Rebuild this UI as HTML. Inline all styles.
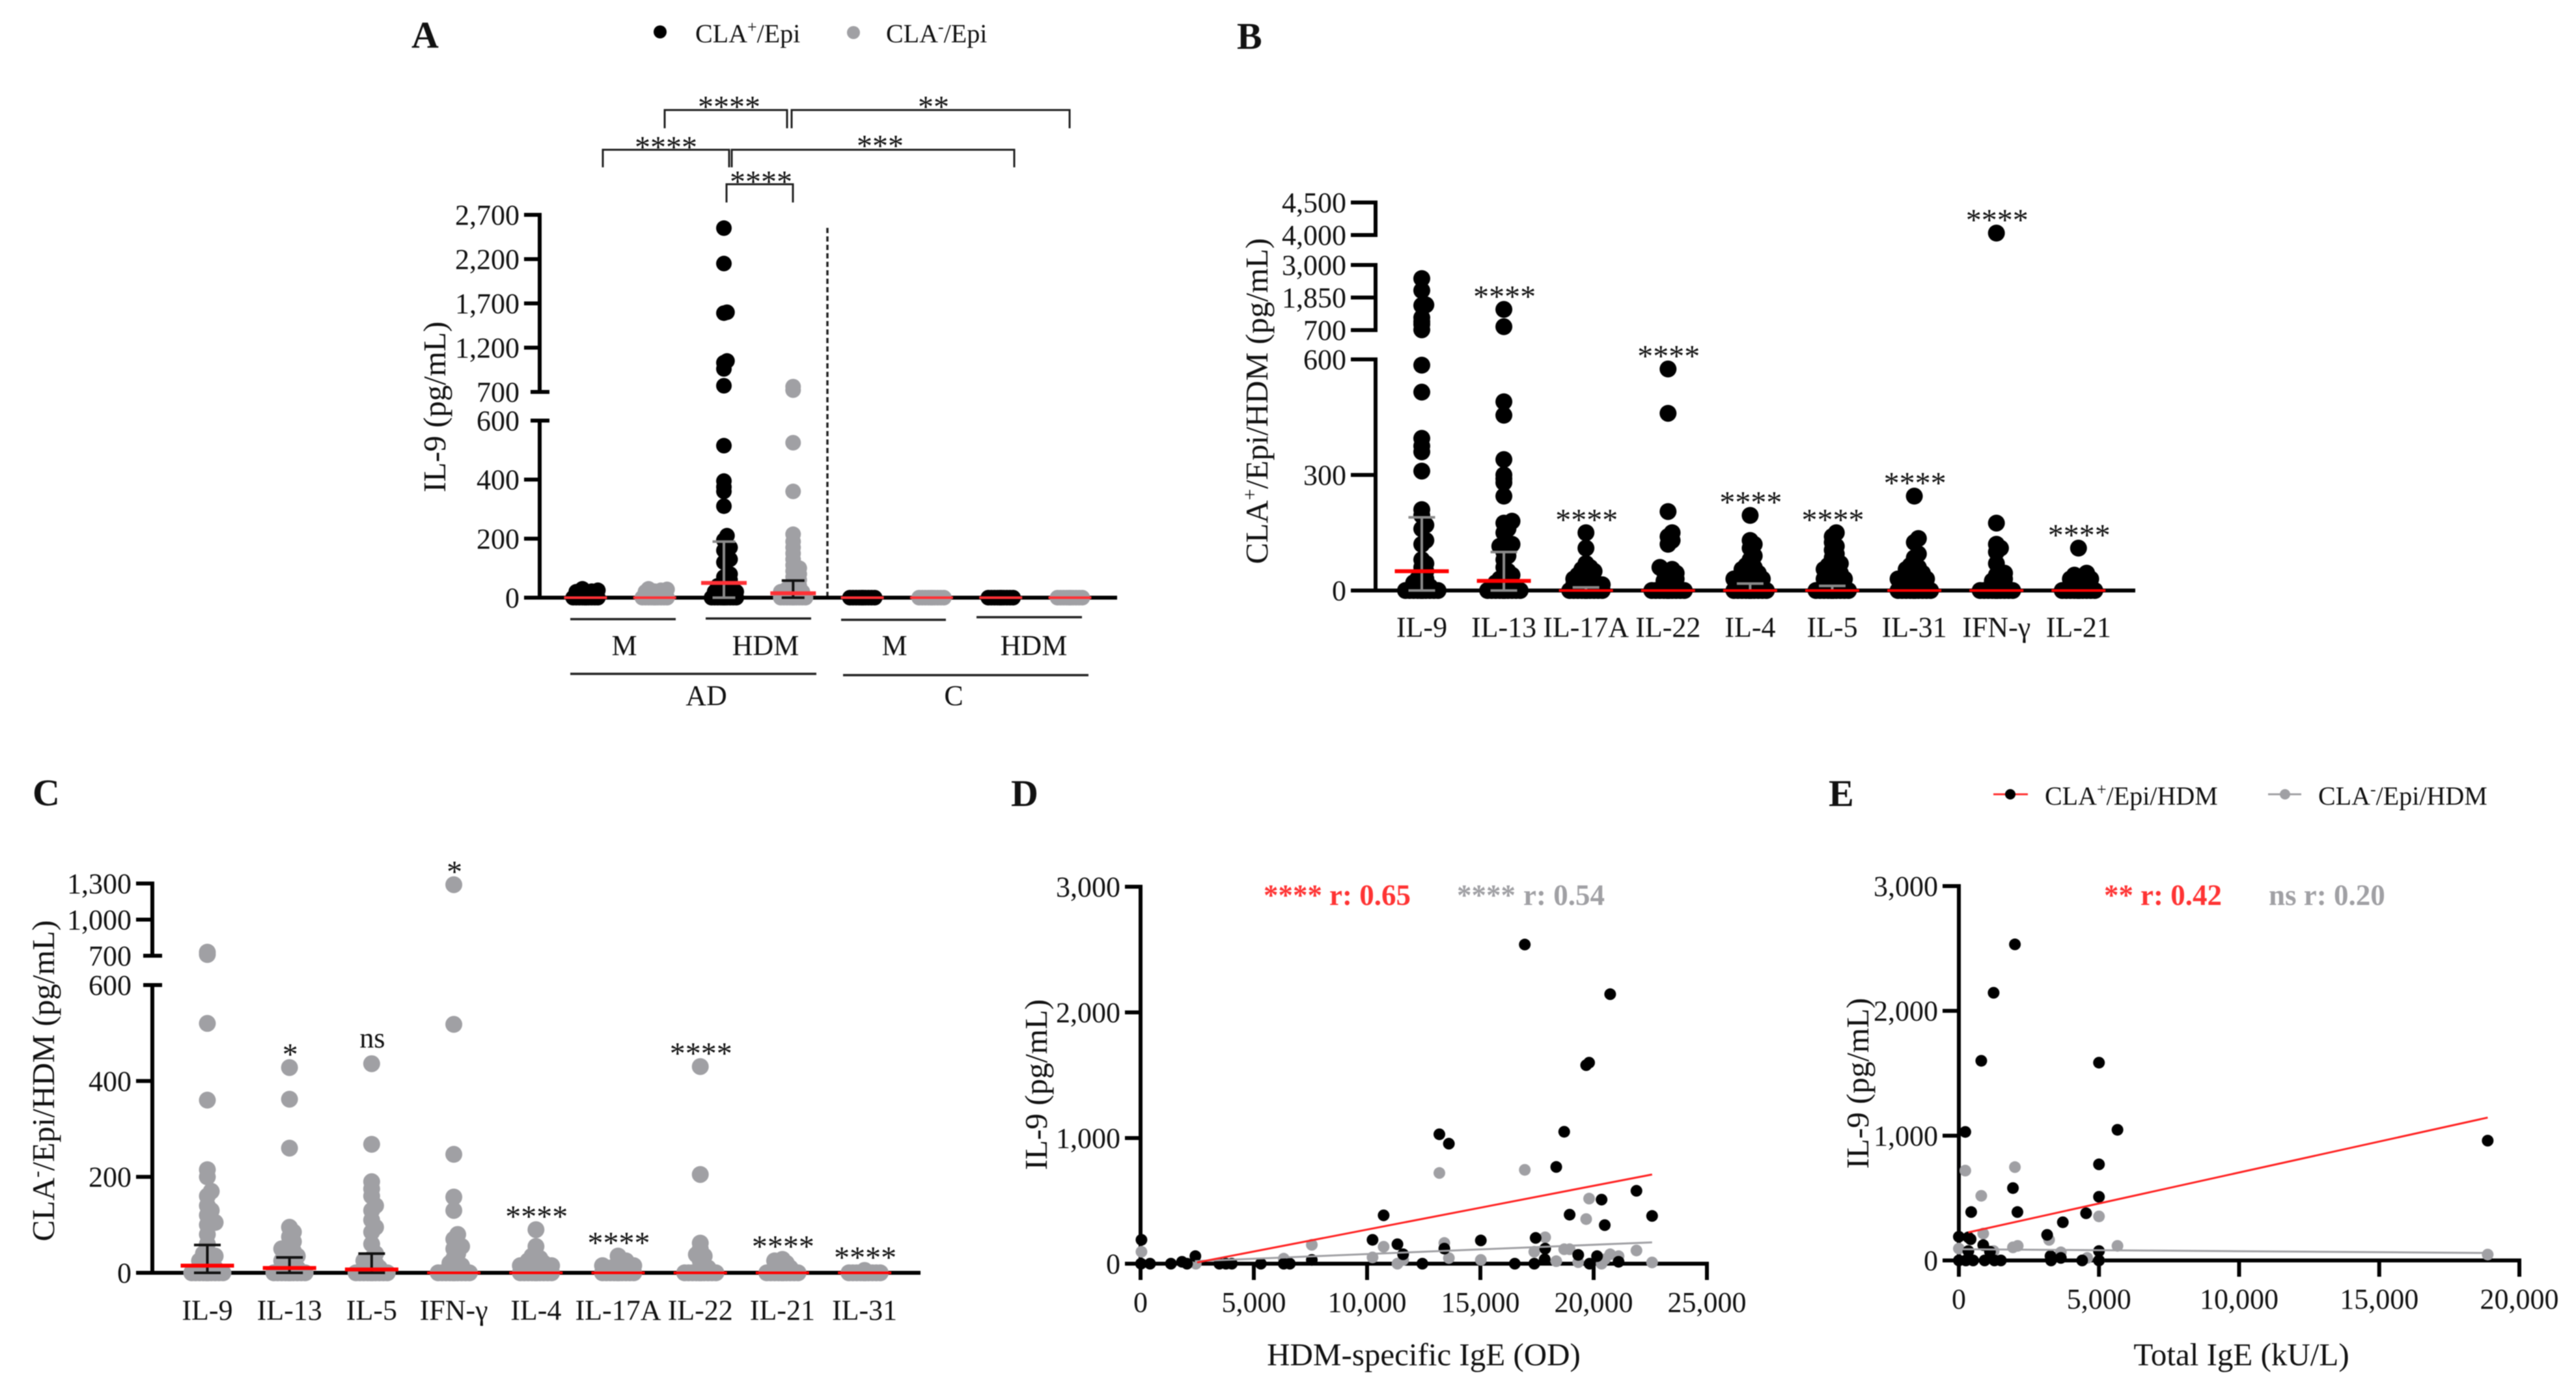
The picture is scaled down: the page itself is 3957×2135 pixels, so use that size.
<!DOCTYPE html>
<html lang="en">
<head>
<meta charset="utf-8">
<title>IL-9 production by CLA+ and CLA- T cells</title>
<style>
html,body{margin:0;padding:0;background:#fff;}
#figure{display:block;width:3957px;height:2135px;filter:blur(0.7px);font-family:"Liberation Serif","Times New Roman",serif;fill:#111;}
.tick{font-size:44px;}
.title{font-size:49px;}
.panel{font-size:58px;font-weight:bold;}
.stars{font-size:48px;}
.legend{font-size:40px;}
.corr{font-size:45px;font-weight:bold;}
.br{fill:none;stroke:#222;stroke-width:3;}
.gl{stroke:#222;stroke-width:3.5;}
</style>
</head>
<body>
<svg id="figure" xmlns="http://www.w3.org/2000/svg" width="3957" height="2135" viewBox="0 0 3957 2135">
  <rect x="0" y="0" width="3957" height="2135" fill="#fff"/>

  <!-- Panel letters -->
  <text class="panel" x="632" y="73">A</text>
  <text class="panel" x="1900" y="75">B</text>
  <text class="panel" x="50" y="1237">C</text>
  <text class="panel" x="1553" y="1238">D</text>
  <text class="panel" x="2809" y="1238">E</text>

  <!-- Panel A legend -->
  <g>
    <circle cx="1014" cy="49" r="10" fill="#000"/>
    <text class="legend" x="1068" y="65">CLA<tspan font-size="26" dy="-15">+</tspan><tspan dy="15">/Epi</tspan></text>
    <circle cx="1311" cy="50" r="10" fill="#a0a0a4"/>
    <text class="legend" x="1361" y="65">CLA<tspan font-size="26" dy="-15">-</tspan><tspan dy="15">/Epi</tspan></text>
  </g>

  <!-- Panel A brackets -->
  <g>
    <path class="br" d="M1021 197V169H1209V197"/>
    <path class="br" d="M1216 197V169H1643V197"/>
    <path class="br" d="M926 257V230H1120V257"/>
    <path class="br" d="M1124 257V230H1558V257"/>
    <path class="br" d="M1116 311V283H1218V311"/>
    <text class="stars" x="1120" y="180" text-anchor="middle">****</text>
    <text class="stars" x="1434" y="180" text-anchor="middle">**</text>
    <text class="stars" x="1023" y="242" text-anchor="middle">****</text>
    <text class="stars" x="1352" y="240" text-anchor="middle">***</text>
    <text class="stars" x="1169" y="295" text-anchor="middle">****</text>
  </g>

  <!-- Panel A divider and grouping -->
  <line x1="1271" y1="350" x2="1271" y2="917" stroke="#222" stroke-width="3.5" stroke-dasharray="8 5"/>
  <g>
    <line class="gl" x1="876" y1="951" x2="1038" y2="951"/>
    <line class="gl" x1="1084" y1="950" x2="1246" y2="950"/>
    <line class="gl" x1="1292" y1="952" x2="1453" y2="952"/>
    <line class="gl" x1="1500" y1="948" x2="1662" y2="948"/>
    <text class="tick" x="959" y="1006" text-anchor="middle">M</text>
    <text class="tick" x="1176" y="1006" text-anchor="middle">HDM</text>
    <text class="tick" x="1374" y="1006" text-anchor="middle">M</text>
    <text class="tick" x="1588" y="1006" text-anchor="middle">HDM</text>
    <line class="gl" x1="876" y1="1035" x2="1254" y2="1035"/>
    <line class="gl" x1="1295" y1="1037" x2="1672" y2="1037"/>
    <text class="tick" x="1085" y="1083" text-anchor="middle">AD</text>
    <text class="tick" x="1465" y="1083" text-anchor="middle">C</text>
  </g>

  <!-- Axis titles -->
  <text class="title" transform="translate(684 625) rotate(-90)" text-anchor="middle">IL-9 (pg/mL)</text>
  <text class="title" transform="translate(1947 616) rotate(-90)" text-anchor="middle">CLA<tspan font-size="31" dy="-17">+</tspan><tspan dy="17">/Epi/HDM (pg/mL)</tspan></text>
  <text class="title" transform="translate(83 1660) rotate(-90)" text-anchor="middle">CLA<tspan font-size="31" dy="-17">-</tspan><tspan dy="17">/Epi/HDM (pg/mL)</tspan></text>
  <text class="title" transform="translate(1608 1666) rotate(-90)" text-anchor="middle">IL-9 (pg/mL)</text>
  <text class="title" transform="translate(2870 1664) rotate(-90)" text-anchor="middle">IL-9 (pg/mL)</text>
  <text class="title" x="2187" y="2097" text-anchor="middle">HDM-specific IgE (OD)</text>
  <text class="title" x="3443" y="2097" text-anchor="middle">Total IgE (kU/L)</text>

  <!-- Correlation annotations -->
  <g>
    <text class="corr" x="1941" y="1390" fill="#ff3333">****</text>
    <text class="corr" x="2042" y="1390" fill="#ff3333">r: 0.65</text>
    <text class="corr" x="2238" y="1390" fill="#a0a0a4">****</text>
    <text class="corr" x="2340" y="1390" fill="#a0a0a4">r: 0.54</text>
  </g>
  <g>
    <text class="corr" x="3232" y="1390" fill="#ff3333">**</text>
    <text class="corr" x="3288" y="1390" fill="#ff3333">r: 0.42</text>
    <text class="corr" x="3485" y="1390" fill="#a0a0a4">ns r: 0.20</text>
  </g>

  <!-- Panel E legend -->
  <g>
    <line x1="3062" y1="1220" x2="3115" y2="1220" stroke="#f33" stroke-width="3"/>
    <circle cx="3088" cy="1220" r="8" fill="#000"/>
    <text class="legend" x="3141" y="1236">CLA<tspan font-size="26" dy="-15">+</tspan><tspan dy="15">/Epi/HDM</tspan></text>
    <line x1="3484" y1="1220" x2="3535" y2="1220" stroke="#a0a0a4" stroke-width="3"/>
    <circle cx="3510" cy="1220" r="8" fill="#a0a0a4"/>
    <text class="legend" x="3561" y="1236">CLA<tspan font-size="26" dy="-15">-</tspan><tspan dy="15">/Epi/HDM</tspan></text>
  </g>

  <g id="charts"></g>
</svg>

<script>
/* ---------- Panel A data ---------- */
const aTicks = [0, 200, 400, 600, 700, 1200, 1700, 2200, 2700];
const aBreakTicks = [600, 700];
const aSeriesColors = ['pos', 'neg', 'pos', 'neg', 'pos', 'neg', 'pos', 'neg'];
const aGroups = ['ad-m-pos', 'ad-m-neg', 'ad-hdm-pos', 'ad-hdm-neg', 'c-m-pos', 'c-m-neg', 'c-hdm-pos', 'c-hdm-neg'];
const aAdMPos = [30, 25, 22, 20, 20, 15, 12, 10, 5, 0, 0, 0, 0, 0, 0, 0, 0, 0, 0, 0, 0];
const aAdMNeg = [30, 28, 25, 22, 20, 15, 12, 10, 5, 0, 0, 0, 0, 0, 0, 0, 0, 0, 0, 0, 0];
const aAdHdmPos = [2550, 2150, 1600, 1590, 1050, 1030, 960, 770, 515, 395, 375, 360, 310, 210, 195, 170, 160, 130, 120, 80, 70, 60, 50, 40, 30, 30, 20, 20, 10, 10, 5, 5, 0, 0, 0, 0, 0, 0, 0, 0, 0, 0, 0, 0, 0, 0, 0, 0];
const aAdHdmNeg = [760, 720, 525, 360, 215, 190, 170, 150, 130, 110, 100, 90, 80, 70, 60, 50, 40, 30, 30, 20, 20, 15, 10, 5, 0, 0, 0, 0, 0, 0, 0, 0, 0, 0, 0, 0];
const aCMPos = [0, 0, 0, 0, 0, 0, 0, 0, 0, 0, 0, 0];
const aCMNeg = [0, 0, 0, 0, 0, 0, 0, 0, 0, 0, 0, 0];
const aCHdmPos = [0, 0, 0, 0, 0, 0, 0, 0, 0, 0, 0, 0];
const aCHdmNeg = [0, 0, 0, 0, 0, 0, 0, 0, 0, 0, 0, 0];
const aValues = [aAdMPos, aAdMNeg, aAdHdmPos, aAdHdmNeg, aCMPos, aCMNeg, aCHdmPos, aCHdmNeg];
const aMedians = [0, 0, 50, 15, 0, 0, 0, 0];
const aErrorTops = [0, 0, 190, 58, 0, 0, 0, 0];

/* ---------- Panel B data ---------- */
const bTicks = [0, 300, 600, 700, 1850, 3000, 4000, 4500];
const bCategories = ['IL-9', 'IL-13', 'IL-17A', 'IL-22', 'IL-4', 'IL-5', 'IL-31', 'IFN-γ', 'IL-21'];
const bStars = ['', '****', '****', '****', '****', '****', '****', '****', '****'];
const bIl9 = [2520, 2100, 1590, 1570, 1140, 1000, 900, 710, 585, 515, 395, 375, 360, 310, 210, 195, 170, 160, 130, 120, 80, 70, 60, 50, 40, 30, 30, 20, 20, 10, 10, 5, 5, 0, 0, 0, 0, 0, 0, 0, 0, 0, 0, 0, 0, 0, 0, 0, 0];
const bIl13 = [1430, 820, 490, 455, 340, 300, 290, 280, 245, 180, 175, 160, 150, 120, 115, 110, 100, 90, 80, 60, 50, 40, 40, 30, 30, 20, 20, 10, 10, 5, 5, 0, 0, 0, 0, 0, 0, 0, 0, 0, 0, 0, 0, 0, 0];
const bIl17a = [150, 110, 70, 60, 55, 50, 45, 40, 35, 30, 30, 25, 20, 20, 15, 15, 10, 10, 5, 5, 0, 0, 0, 0, 0, 0, 0, 0, 0, 0, 0, 0, 0, 0];
const bIl22 = [575, 460, 205, 150, 140, 130, 120, 60, 55, 50, 45, 40, 30, 25, 20, 10, 0, 0, 0, 0, 0, 0, 0, 0, 0, 0, 0, 0, 0, 0, 0, 0];
const bIl4 = [195, 130, 120, 110, 90, 80, 65, 60, 55, 50, 45, 40, 35, 30, 30, 25, 25, 20, 15, 10, 5, 0, 0, 0, 0, 0, 0, 0, 0, 0, 0, 0, 0, 0, 0, 0, 0];
const bIl5 = [150, 140, 125, 115, 105, 95, 85, 70, 65, 60, 55, 50, 45, 40, 35, 30, 30, 25, 20, 15, 10, 5, 0, 0, 0, 0, 0, 0, 0, 0, 0, 0, 0, 0, 0, 0, 0, 0];
const bIl31 = [245, 135, 125, 95, 85, 65, 60, 55, 50, 45, 40, 35, 30, 30, 25, 25, 20, 15, 10, 5, 0, 0, 0, 0, 0, 0, 0, 0, 0, 0, 0, 0, 0, 0, 0, 0];
const bIfn = [4030, 175, 120, 110, 100, 70, 45, 40, 30, 25, 20, 10, 0, 0, 0, 0, 0, 0, 0, 0, 0, 0, 0, 0, 0, 0, 0, 0];
const bIl21 = [110, 45, 40, 35, 30, 30, 25, 20, 15, 10, 5, 0, 0, 0, 0, 0, 0, 0, 0, 0, 0, 0, 0, 0, 0, 0, 0];
const bValues = [bIl9, bIl13, bIl17a, bIl22, bIl4, bIl5, bIl31, bIfn, bIl21];
const bMedians = [50, 25, 0, 0, 0, 0, 0, 0, 0];
const bErrorTops = [190, 100, 8, 0, 18, 12, 0, 0, 0];

/* ---------- Panel C data ---------- */
const cTicks = [0, 200, 400, 600, 700, 1000, 1300];
const cBreakTicks = [600, 700];
const cCategories = ['IL-9', 'IL-13', 'IL-5', 'IFN-γ', 'IL-4', 'IL-17A', 'IL-22', 'IL-21', 'IL-31'];
const cStars = ['', '*', 'ns', '*', '****', '****', '****', '****', '****'];
const cIl9 = [730, 710, 520, 360, 215, 200, 170, 160, 140, 130, 120, 105, 100, 80, 60, 40, 35, 30, 25, 20, 15, 10, 5, 0, 0, 0, 0, 0, 0, 0, 0, 0, 0, 0, 0, 0, 0];
const cIl13 = [428, 362, 260, 95, 85, 75, 65, 55, 50, 45, 40, 35, 30, 25, 20, 15, 10, 5, 0, 0, 0, 0, 0, 0, 0, 0, 0, 0, 0, 0, 0, 0];
const cIl5 = [436, 268, 190, 175, 160, 140, 130, 110, 95, 85, 60, 40, 30, 25, 20, 15, 10, 5, 0, 0, 0, 0, 0, 0, 0, 0, 0, 0, 0, 0, 0, 0];
const cIfn = [1290, 518, 247, 158, 130, 80, 70, 55, 50, 40, 30, 20, 15, 10, 0, 0, 0, 0, 0, 0, 0, 0, 0, 0, 0, 0, 0, 0];
const cIl4 = [90, 55, 35, 30, 25, 20, 20, 15, 15, 10, 10, 5, 0, 0, 0, 0, 0, 0, 0, 0, 0, 0, 0, 0, 0, 0];
const cIl17a = [35, 25, 20, 15, 15, 10, 10, 5, 0, 0, 0, 0, 0, 0, 0, 0, 0, 0, 0, 0, 0, 0];
const cIl22 = [430, 205, 62, 50, 38, 35, 25, 10, 5, 0, 0, 0, 0, 0, 0, 0, 0, 0, 0, 0, 0, 0, 0];
const cIl21 = [28, 25, 20, 15, 10, 5, 0, 0, 0, 0, 0, 0, 0, 0, 0, 0, 0, 0];
const cIl31 = [5, 0, 0, 0, 0, 0, 0, 0, 0, 0, 0, 0, 0, 0, 0];
const cValues = [cIl9, cIl13, cIl5, cIfn, cIl4, cIl17a, cIl22, cIl21, cIl31];
const cMedians = [15, 10, 7, 0, 0, 0, 0, 0, 0];
const cErrorTops = [58, 32, 40, 0, 0, 0, 0, 0, 0];

/* ---------- Panel D data ---------- */
const dXTicks = [0, 5000, 10000, 15000, 20000, 25000];
const dYTicks = [0, 1000, 2000, 3000];
const dPosIge = [40, 20, 420, 1340, 1830, 2050, 2420, 3480, 3770, 4030, 5310, 6320, 6590, 7560, 10240, 10730, 11340, 11590, 12440, 13190, 13410, 13610, 15020, 16520, 16960, 17380, 17440, 17860, 17840, 18350, 18700, 18940, 19320, 19670, 19800, 19820, 20150, 20350, 20490, 20730, 21100, 21890, 22580];
const dPosIl9 = [190, 0, 0, 0, 15, 0, 60, 0, 0, 0, 0, 0, 0, 30, 190, 385, 155, 75, 0, 1030, 120, 955, 185, 0, 2540, 0, 205, 120, 35, 770, 1050, 390, 70, 1580, 1600, 0, 60, 510, 307, 2145, 15, 580, 380];
const dNegIge = [40, 2440, 6320, 7560, 10240, 10730, 11340, 11590, 13190, 13410, 13610, 15020, 16960, 17380, 17860, 18350, 18700, 18940, 19320, 19670, 19800, 20350, 20490, 20730, 21100, 21890, 22580];
const dNegIl9 = [95, 0, 40, 150, 50, 135, 0, 30, 722, 165, 45, 30, 747, 95, 210, 20, 115, 115, 12, 355, 518, 0, 35, 75, 60, 105, 10];
const dPosFitX = [2500, 22580];
const dPosFitY = [10, 710];
const dNegFitX = [2400, 22580];
const dNegFitY = [20, 170];

/* ---------- Panel E data ---------- */
const eXTicks = [0, 5000, 10000, 15000, 20000];
const eYTicks = [0, 1000, 2000, 3000];
const ePosIge = [0, 0, 230, 340, 420, 440, 340, 510, 250, 800, 870, 920, 1110, 1240, 1270, 1500, 1930, 2000, 2090, 3150, 3270, 3290, 3640, 3710, 4400, 4540, 5000, 5000, 5000, 5000, 5000, 5660, 18870];
const ePosIl9 = [190, 0, 1030, 185, 170, 388, 75, 0, 0, 1600, 123, 0, 70, 2145, 0, 0, 580, 2533, 388, 205, 35, 0, 20, 306, 0, 378, 1585, 770, 510, 75, 0, 1047, 960];
const eNegIge = [0, 230, 800, 870, 1240, 1930, 2000, 2100, 3220, 3640, 4580, 5000, 5000, 5660, 18870];
const eNegIl9 = [95, 720, 518, 215, 75, 105, 748, 117, 165, 65, 20, 353, 0, 117, 47];
const ePosFitX = [340, 18870];
const ePosFitY = [225, 1145];
const eNegFitX = [0, 18870];
const eNegFitY = [90, 60];

/* ---------- Drawing ---------- */
const SVG_NS = 'http://www.w3.org/2000/svg';
const root = document.getElementById('charts');
const BLACK = '#000';
const GRAY = '#a0a0a4';

function make(tag, parent, attrs) {
  const node = document.createElementNS(SVG_NS, tag);
  for (const key in attrs) node.setAttribute(key, attrs[key]);
  parent.appendChild(node);
  return node;
}
function fmt(v) {
  return String(v).replace(/\B(?=(\d{3})+(?!\d))/g, ',');
}
function swarm(values, yFn, radius, step) {
  const sorted = values.slice().sort(function (p, q) { return p - q; });
  const placed = [];
  const candidates = [0, step / 2, -step / 2, step, -step, 1.5 * step, -1.5 * step, 2 * step, -2 * step];
  sorted.forEach(function (v) {
    const y = yFn(v);
    /* sparse outliers stay close to the column centre; the dense low range spreads out */
    const minDist = v > 250 ? radius * 0.25 : radius * 0.6;
    let best = 0;
    let bestDist = -1;
    for (const dx of candidates) {
      let nearest = Infinity;
      for (const p of placed) {
        const dist = Math.hypot(p.dx - dx, p.y - y);
        if (dist < nearest) nearest = dist;
      }
      if (nearest >= minDist) { best = dx; bestDist = nearest; break; }
      if (nearest > bestDist) { best = dx; bestDist = nearest; }
    }
    placed.push({ v: v, y: y, dx: best });
  });
  return placed;
}
function drawVerticalAxis(group, x, tickLeft, yFn, ticks, segments, breakTicks) {
  segments.forEach(function (seg) {
    const spine = make('line', group, { x1: x, x2: x, y1: yFn(seg[0]), y2: yFn(seg[1]), stroke: '#000', 'stroke-width': 6, 'stroke-linecap': 'square' });
    
    
  });
  ticks.forEach(function (t) {
    const isBreak = breakTicks.indexOf(t) >= 0;
    const mark = make('line', group, { x1: isBreak ? x - 14 : tickLeft, x2: isBreak ? x + 15 : x, y1: yFn(t), y2: yFn(t), stroke: '#000', 'stroke-width': 6 });
    
    
    const label = make('text', group, { x: tickLeft - 7, y: yFn(t) + 15, 'text-anchor': 'end', class: 'tick' });
    
    
    label.textContent = fmt(t);
  });
}
function drawSwarmPanel(opts) {
  const group = make('g', root, {});
  
  
  const axisLine = make('line', group, { x1: opts.axisLeft, x2: opts.axisRight, y1: opts.yFn(0), y2: opts.yFn(0), stroke: '#000', 'stroke-width': 6 });
  
  
  drawVerticalAxis(group, opts.axisX, opts.tickLeft, opts.yFn, opts.ticks, opts.segments, opts.breakTicks);
  opts.values.forEach(function (vals, i) {
    const cx = opts.xFn(i);
    const color = opts.colorFn(i);
    swarm(vals, opts.yFn, opts.radius, opts.step).forEach(function (p) {
      const dot = make('circle', group, { cx: cx + p.dx, cy: p.y, r: opts.radius, fill: color });
      
      
    });
  });
  opts.values.forEach(function (vals, i) {
    const cx = opts.xFn(i);
    const barColor = opts.colorFn(i) === BLACK ? '#8a8a8a' : '#111';
    const top = opts.errorTops[i];
    const capHalf = opts.capHalf;
    if (top > 0) {
      const path = 'M' + (cx - capHalf) + ' ' + opts.yFn(top) + 'H' + (cx + capHalf) + 'M' + cx + ' ' + opts.yFn(top) + 'V' + opts.yFn(0) + 'M' + (cx - capHalf) + ' ' + opts.yFn(0) + 'H' + (cx + capHalf);
      const err = make('path', group, { d: path, fill: 'none', stroke: barColor, 'stroke-width': 4 });
      
      
    }
    const med = opts.medians[i];
    const isZero = med === 0;
    const half = isZero ? opts.medHalfZero : opts.medHalf;
    const median = make('line', group, { x1: cx - half, x2: cx + half, y1: opts.yFn(med), y2: opts.yFn(med), stroke: opts.medColor, 'stroke-width': isZero ? 4 : 6 });
    
    
  });
  if (opts.stars) {
    opts.stars.forEach(function (s, i) {
      const cx = opts.xFn(i);
      const top = Math.max.apply(null, opts.values[i]);
      if (s) {
        const isNs = s === 'ns';
        const star = make('text', group, { x: cx + 1, y: opts.yFn(top) + (isNs ? -25 : -4), 'text-anchor': 'middle', class: isNs ? 'tick' : 'stars' });
        
        
        star.textContent = s;
      }
      const label = make('text', group, { x: cx, y: opts.labelY, 'text-anchor': 'middle', class: 'tick' });
      
      
      label.textContent = opts.labels[i];
    });
  }
}

/* Piecewise axis functions for the broken y-axes */
function yA(v) { return v <= 600 ? 918 - v / 600 * 272 : 602 - (v - 700) / 2000 * 272; }
function yB(v) { return v <= 600 ? 907 - v / 600 * 355 : (v <= 3000 ? 507 - (v - 700) / 2300 * 100 : 361 - (v - 4000) / 500 * 50); }
function yC(v) { return v <= 600 ? 1955 - v / 600 * 442 : 1468 - (v - 700) / 600 * 111; }

drawSwarmPanel({
  name: 'panel-a-chart', values: aValues, labels: aGroups, ticks: aTicks, breakTicks: aBreakTicks, medians: aMedians, errorTops: aErrorTops,
  segments: [[0, 600], [700, 2700]], yFn: yA, xFn: function (i) { return 899.4 + i * 106.3; },
  colorFn: function (i) { return aSeriesColors[i] === 'pos' ? BLACK : GRAY; },
  axisX: 829, tickLeft: 805, axisLeft: 805, axisRight: 1716, radius: 12, step: 9.5, capHalf: 17.5, medHalf: 35, medHalfZero: 33, medColor: '#ff3035'
});
drawSwarmPanel({
  name: 'panel-b-chart', values: bValues, labels: bCategories, ticks: bTicks, breakTicks: [], medians: bMedians, errorTops: bErrorTops, stars: bStars,
  segments: [[0, 600], [700, 3000], [4000, 4500]], yFn: yB, xFn: function (i) { return 2184 + i * 126.1; },
  colorFn: function () { return BLACK; },
  axisX: 2113, tickLeft: 2075, axisLeft: 2075, axisRight: 3280, radius: 13, step: 12.5, capHalf: 20.5, medHalf: 41.5, medHalfZero: 41.5, medColor: '#f00', labelY: 978
});
drawSwarmPanel({
  name: 'panel-c-chart', values: cValues, labels: cCategories, ticks: cTicks, breakTicks: cBreakTicks, medians: cMedians, errorTops: cErrorTops, stars: cStars,
  segments: [[0, 600], [700, 1300]], yFn: yC, xFn: function (i) { return 318.5 + i * 126.2; },
  colorFn: function () { return GRAY; },
  axisX: 234, tickLeft: 209, axisLeft: 209, axisRight: 1414, radius: 13, step: 12, capHalf: 20.5, medHalf: 41, medHalfZero: 41, medColor: '#f00', labelY: 2027
});

function drawScatterPanel(opts) {
  const group = make('g', root, {});
  
  
  const xFn = opts.xFn;
  const yFn = opts.yFn;
  const xLine = make('line', group, { x1: opts.tickLeft, x2: xFn(opts.xTicks[opts.xTicks.length - 1]) + 3, y1: yFn(0), y2: yFn(0), stroke: '#000', 'stroke-width': 6 });
  
  
  drawVerticalAxis(group, xFn(0), opts.tickLeft, yFn, opts.yTicks, [[0, 3000]], []);
  opts.xTicks.forEach(function (t) {
    const mark = make('line', group, { x1: xFn(t), x2: xFn(t), y1: yFn(0), y2: yFn(0) + 25, stroke: '#000', 'stroke-width': 6 });
    
    
    const label = make('text', group, { x: xFn(t), y: opts.labelY, 'text-anchor': 'middle', class: 'tick' });
    
    
    label.textContent = fmt(t);
  });
  opts.negX.forEach(function (x, i) {
    const dot = make('circle', group, { cx: xFn(x), cy: yFn(opts.negY[i]), r: 9, fill: GRAY });
    
    
  });
  opts.posX.forEach(function (x, i) {
    const dot = make('circle', group, { cx: xFn(x), cy: yFn(opts.posY[i]), r: 9, fill: BLACK });
    
    
  });
  const negFit = make('line', group, { x1: xFn(opts.negFitX[0]), x2: xFn(opts.negFitX[1]), y1: yFn(opts.negFitY[0]), y2: yFn(opts.negFitY[1]), stroke: GRAY, 'stroke-width': 3 });
  
  
  const posFit = make('line', group, { x1: xFn(opts.posFitX[0]), x2: xFn(opts.posFitX[1]), y1: yFn(opts.posFitY[0]), y2: yFn(opts.posFitY[1]), stroke: '#f22', 'stroke-width': 3 });
  
  
}

drawScatterPanel({
  name: 'panel-d-chart', xTicks: dXTicks, yTicks: dYTicks, posX: dPosIge, posY: dPosIl9, negX: dNegIge, negY: dNegIl9,
  posFitX: dPosFitX, posFitY: dPosFitY, negFitX: dNegFitX, negFitY: dNegFitY,
  xFn: function (v) { return 1752 + v / 25000 * 870; }, yFn: function (v) { return 1941 - v / 3000 * 579; }, tickLeft: 1728, labelY: 2015
});
drawScatterPanel({
  name: 'panel-e-chart', xTicks: eXTicks, yTicks: eYTicks, posX: ePosIge, posY: ePosIl9, negX: eNegIge, negY: eNegIl9,
  posFitX: ePosFitX, posFitY: ePosFitY, negFitX: eNegFitX, negFitY: eNegFitY,
  xFn: function (v) { return 3009 + v / 20000 * 861; }, yFn: function (v) { return 1936 - v / 3000 * 575; }, tickLeft: 2984, labelY: 2010
});
</script>
</body>
</html>
